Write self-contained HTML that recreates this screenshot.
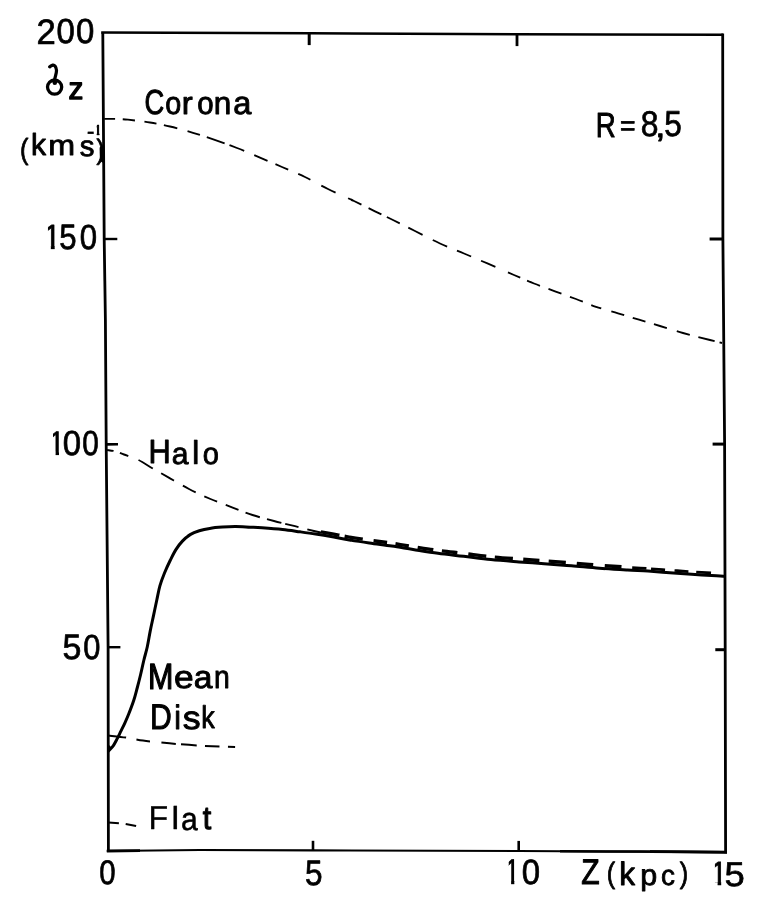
<!DOCTYPE html>
<html><head><meta charset="utf-8"><title>Velocity dispersion vs Z</title>
<style>
html,body{margin:0;padding:0;background:#fff;}
body{width:771px;height:916px;overflow:hidden;}
svg{display:block;}
text{font-family:"Liberation Sans",sans-serif;text-rendering:geometricPrecision;font-size:35px;fill:#000;stroke:#000;stroke-width:1px;stroke-linejoin:round;}
.ax{fill:none;stroke:#000;stroke-linecap:butt;stroke-linejoin:miter;}
.cv{fill:none;stroke:#000;stroke-linecap:butt;stroke-linejoin:round;}
.t{fill:none;stroke:#000;stroke-linecap:round;stroke-linejoin:round;}
</style></head>
<body>
<svg width="771" height="916" viewBox="0 0 771 916">
<defs><clipPath id="c1"><rect x="5.25" y="-26" width="7.2" height="22.8"/><rect x="8.4" y="-3.3" width="4.05" height="3.9"/></clipPath><clipPath id="c2"><rect x="7" y="-27" width="6.7" height="23.6"/><rect x="7" y="-3.5" width="6.7" height="5.2"/></clipPath><filter id="soft" x="0" y="0" width="771" height="916" filterUnits="userSpaceOnUse"><feGaussianBlur stdDeviation="0.45"/></filter></defs>
<rect width="771" height="916" fill="#fff"/>
<g filter="url(#soft)">
<polyline class="ax" style="stroke-width:2.8" points="102.8,32.5 104.2,239 105.4,320 106.2,444 108.1,647 108.4,851"/>
<polyline class="ax" style="stroke-width:2.5" points="101.2,32.6 310,33.2 516,34.2 723,34.8"/>
<polyline class="ax" style="stroke-width:2.8" points="722.7,33.5 722.9,239 724.6,444 725.2,650 725.6,853.2"/>
<polyline class="ax" style="stroke-width:2.2" points="106.8,851 200,850 313,850.4 519,851 727,852.2"/>
<polyline class="ax" style="stroke-width:2.5" points="560,851.2 640,851.6 727,852.2"/>
<polyline class="ax" style="stroke-width:2.8" points="650,851.7 727,852.2"/>
<polyline class="ax" style="stroke-width:2.8" points="106.8,851 140,850.6"/>
<line class="ax" style="stroke-width:2.4" x1="104" y1="239" x2="117.3" y2="239"/>
<line class="ax" style="stroke-width:2.6" x1="106" y1="444.4" x2="118" y2="444.2"/>
<line class="ax" style="stroke-width:2.4" x1="108" y1="647.2" x2="120.4" y2="647.2"/>
<line class="ax" style="stroke-width:3" x1="709.6" y1="239" x2="723" y2="239"/>
<line class="ax" style="stroke-width:3" x1="712.6" y1="444.1" x2="724.6" y2="444.1"/>
<line class="ax" style="stroke-width:3" x1="715.3" y1="649.7" x2="725.2" y2="649.7"/>
<line class="ax" style="stroke-width:3" x1="309.2" y1="33" x2="309.2" y2="45.1"/>
<line class="ax" style="stroke-width:2.8" x1="517" y1="34" x2="517" y2="46.1"/>
<line class="ax" style="stroke-width:2.6" x1="313" y1="840.8" x2="313" y2="850.5"/>
<line class="ax" style="stroke-width:2.6" x1="518.7" y1="840.9" x2="518.7" y2="851"/>
<path class="cv" style="stroke-width:1.85;stroke-dasharray:0 0.3 10.8 7.71 12.26 9.37 12.26 7.75 13.89 10.38 12.95 7.36 18.95 5.11 15.69 10.86 14.45 8.7 13.92 10.87 13.41 12.48 15.93 13.4 14.83 8.03 14.24 6.32 14.38 9.51 16.02 11.22 15.74 10.69 15.49 10.87 15.57 13.31 13.41 7.73 13.89 9.05 13.73 9.05 13.82 9.16 10.56 10.4 13.35 8.99 13.37 8.98 13.38 10.47 13.4 8.78 16.82 4.74 2.88 50;" d="M104 118.9 C105.83 118.9 111 118.77 115 118.9 C119 119.03 122.17 119.1 128 119.7 C133.83 120.3 143 121.37 150 122.5 C157 123.63 162.83 124.78 170 126.5 C177.17 128.22 185.67 130.62 193 132.8 C200.33 134.98 206.67 137.07 214 139.6 C221.33 142.13 229.33 145 237 148 C244.67 151 252.5 154.43 260 157.6 C267.5 160.77 274.5 163.77 282 167 C289.5 170.23 297.33 173.33 305 177 C312.67 180.67 319.83 185 328 189 C336.17 193 346.17 197.28 354 201 C361.83 204.72 368.5 208.13 375 211.3 C381.5 214.47 386.33 216.72 393 220 C399.67 223.28 407.17 227.08 415 231 C422.83 234.92 431.83 239.75 440 243.5 C448.17 247.25 456 250.13 464 253.5 C472 256.87 479.67 260.12 488 263.7 C496.33 267.28 506.33 271.7 514 275 C521.67 278.3 527.17 280.78 534 283.5 C540.83 286.22 548 288.72 555 291.3 C562 293.88 569.17 296.42 576 299 C582.83 301.58 589 304.42 596 306.8 C603 309.18 610.83 311.15 618 313.3 C625.17 315.45 632 317.58 639 319.7 C646 321.82 652.67 323.78 660 326 C667.33 328.22 674.67 330.67 683 333 C691.33 335.33 703.5 338.33 710 340 C716.5 341.67 720 342.5 722 343"/>
<path class="cv" style="stroke-width:1.9;stroke-dasharray:0 0.1 6.46 6.81 9.08 10.75 16.64 9.77 14.86 9.93 14.43 9.47 13.89 9.2 13.7 7.61 15.05 7.36 14.77 3.91 13.9 8.98 14.19 51.02;" d="M107 450 C108.45 450.23 112.87 450.65 115.7 451.4 C118.53 452.15 120.2 453.07 124 454.5 C127.8 455.93 133.7 457.67 138.5 460 C143.3 462.33 147.97 465.7 152.8 468.5 C157.63 471.3 161.47 473.38 167.5 476.8 C173.53 480.22 181.83 485.3 189 489 C196.17 492.7 203.33 495.95 210.5 499 C217.67 502.05 225 504.63 232 507.3 C239 509.97 245.5 512.72 252.5 515 C259.5 517.28 266.92 519.13 274 521 C281.08 522.87 288.33 524.53 295 526.2 C301.67 527.87 309.5 529.9 314 531 C318.5 532.1 320.67 532.5 322 532.8"/>
<path class="cv" style="stroke-width:3.4;stroke-dasharray:0 5.47 18.8 5.4 18.13 10.91 13.62 8.49 13.78 8.91 15.68 8.68 15.7 10.98 18.04 8.54 17.96 10.43 16.44 9.33 17.15 10.94 16.46 11.63 16.43 153.51;" d="M315.6 531.1 C318.17 531.52 325.82 532.68 331 533.6 C336.18 534.52 340.32 535.52 346.7 536.6 C353.08 537.68 361.78 539 369.3 540.1 C376.82 541.2 384.5 542.12 391.8 543.2 C399.1 544.28 405.4 545.4 413.1 546.6 C420.8 547.8 429.57 549.27 438 550.4 C446.43 551.53 454.88 552.35 463.7 553.4 C472.52 554.45 481.68 555.77 490.9 556.7 C500.12 557.63 510.13 558.32 519 559 C527.87 559.68 535.37 560.15 544.1 560.8 C552.83 561.45 562.18 562.15 571.4 562.9 C580.62 563.65 590.07 564.6 599.4 565.3 C608.73 566 619.3 566.62 627.4 567.1 C635.5 567.58 640.93 567.75 648 568.2 C655.07 568.65 662.53 569.27 669.8 569.8 C677.07 570.33 683.82 570.88 691.6 571.4 C699.38 571.92 711.02 572.58 716.5 572.9 C721.98 573.22 723.17 573.23 724.5 573.3"/>
<path class="cv" style="stroke-width:2.7;stroke-dasharray:0 32.56 14.62 4.61 14.04 9.43 14.04 7.82 14.73 63.52;" d="M599.4 565.65 C604.07 565.95 619.3 566.97 627.4 567.45 C635.5 567.93 640.93 568.1 648 568.55 C655.07 569 662.53 569.62 669.8 570.15 C677.07 570.68 683.82 571.23 691.6 571.75 C699.38 572.27 711.02 572.93 716.5 573.25 C721.98 573.57 723.17 573.58 724.5 573.65"/>
<path class="cv" style="stroke-width:3;" d="M108 751.4 C108.77 750.62 111.08 748.78 112.6 746.7 C114.12 744.62 115.72 741.5 117.1 738.9 C118.48 736.3 119.63 733.7 120.9 731.1 C122.17 728.5 123.4 726.15 124.7 723.3 C126 720.45 127.2 717.8 128.7 714 C130.2 710.2 132.28 704.83 133.7 700.5 C135.12 696.17 136.07 692.25 137.2 688 C138.33 683.75 139.38 679.67 140.5 675 C141.62 670.33 142.77 664.72 143.9 660 C145.03 655.28 146.25 651.52 147.3 646.7 C148.35 641.88 149.17 636.28 150.2 631.1 C151.23 625.92 152.4 620.78 153.5 615.6 C154.6 610.42 155.73 604.95 156.8 600 C157.87 595.05 158.62 590.4 159.9 585.9 C161.18 581.4 162.75 577.32 164.5 573 C166.25 568.68 168.5 563.9 170.4 560 C172.3 556.1 173.9 552.75 175.9 549.6 C177.9 546.45 180.02 543.6 182.4 541.1 C184.78 538.6 187.38 536.32 190.2 534.6 C193.02 532.88 196.05 531.83 199.3 530.8 C202.55 529.77 205.82 529.02 209.7 528.4 C213.58 527.78 218.28 527.4 222.6 527.1 C226.92 526.8 231.03 526.58 235.6 526.6 C240.17 526.62 245.6 527 250 527.2 C254.4 527.4 256.57 527.42 262 527.8 C267.43 528.18 276.27 528.83 282.6 529.5 C288.93 530.17 294.5 531.05 300 531.8 C305.5 532.55 310.43 533.22 315.6 534 C320.77 534.78 325.82 535.58 331 536.5 C336.18 537.42 340.32 538.42 346.7 539.5 C353.08 540.58 361.78 541.9 369.3 543 C376.82 544.1 384.5 545.02 391.8 546.1 C399.1 547.18 405.4 548.3 413.1 549.5 C420.8 550.7 429.57 552.17 438 553.3 C446.43 554.43 454.88 555.25 463.7 556.3 C472.52 557.35 481.68 558.67 490.9 559.6 C500.12 560.53 510.13 561.22 519 561.9 C527.87 562.58 535.37 563.05 544.1 563.7 C552.83 564.35 562.18 565.05 571.4 565.8 C580.62 566.55 590.07 567.5 599.4 568.2 C608.73 568.9 619.3 569.52 627.4 570 C635.5 570.48 640.93 570.65 648 571.1 C655.07 571.55 662.53 572.17 669.8 572.7 C677.07 573.23 683.82 573.78 691.6 574.3 C699.38 574.82 711.02 575.48 716.5 575.8 C721.98 576.12 723.17 576.13 724.5 576.2"/>
<path class="cv" style="stroke-width:2;stroke-dasharray:17.73 10.57 13.64 11.45 14.58 5.22 15.64 8.31 14.51 8.3 7.3 50;" d="M108.5 735.5 C111.43 735.85 120.35 736.75 126.1 737.6 C131.85 738.45 137.12 739.8 143 740.6 C148.88 741.4 155.57 741.82 161.4 742.4 C167.23 742.98 172.12 743.58 178 744.1 C183.88 744.62 191.03 745.15 196.7 745.5 C202.37 745.85 205.6 745.97 212 746.2 C218.4 746.43 231.25 746.78 235.1 746.9"/>
<path fill="#000" d="M108 744 L111.5 747.5 L108 752.5 Z"/>
<line class="cv" style="stroke-width:2" x1="108.5" y1="822.5" x2="118.9" y2="823.2"/>
<line class="cv" style="stroke-width:2" x1="125.7" y1="824" x2="136.1" y2="826.1"/>
<g><text transform="matrix(0.99 0 0 1.01 36.61 43.55)" style="stroke-width:0.7">2</text><text transform="matrix(0.94 0 0 0.99 56.55 43.21)" style="stroke-width:0.7">0</text><text transform="matrix(0.94 0 0 0.99 75.94 43.21)" style="stroke-width:0.7">0</text></g>
<g><text clip-path="url(#c1)" style="stroke-width:0.7" transform="matrix(0.94 0 0 1 42.95 248.95)">1</text><text transform="matrix(0.89 0 0 1.01 59.26 249.2)" style="stroke-width:0.7">5</text><text transform="matrix(0.89 0 0 0.99 79.69 249.21)" style="stroke-width:0.7">0</text></g>
<g><text clip-path="url(#c1)" style="stroke-width:0.7" transform="matrix(0.84 0 0 0.97 48.57 454.86)">1</text><text transform="matrix(0.94 0 0 0.99 62.65 455.01)" style="stroke-width:0.7">0</text><text transform="matrix(0.85 0 0 0.99 82.14 455.01)" style="stroke-width:0.7">0</text></g>
<g><text transform="matrix(0.97 0 0 1.01 62.58 659.2)" style="stroke-width:0.7">5</text><text transform="matrix(0.88 0 0 0.99 83.21 659.21)" style="stroke-width:0.7">0</text></g>
<text transform="matrix(0.84 0 0 0.97 99.35 883.53)" style="stroke-width:0.7">0</text>
<text transform="matrix(0.9 0 0 1.01 305.05 884.6)" style="stroke-width:0.7">5</text>
<g><text clip-path="url(#c1)" style="stroke-width:0.7" transform="matrix(0.8 0 0 1.02 504.4 884.14)">1</text><text transform="matrix(0.94 0 0 1 521.75 883.81)" style="stroke-width:0.7">0</text></g>
<g><text clip-path="url(#c1)" style="stroke-width:0.7" transform="matrix(0.89 0 0 0.96 710.15 885.36)">1</text><text transform="matrix(1.04 0 0 0.98 724.61 885.82)" style="stroke-width:0.7">5</text></g>
<g role="img" aria-label="sigma"><title>&#963;</title>
<circle class="t" style="stroke-width:3.3" cx="54.6" cy="87.1" r="7.1"/>
<path class="t" style="stroke-width:3.2" d="M54.6 80 C55 76.5 56.6 73.6 56.5 70.4 C56.3 66.6 54.4 64.7 52.8 65.1 C51.4 65.5 50.4 66.1 49.7 66.9"/>
<ellipse fill="#000" cx="54.8" cy="82.6" rx="2.3" ry="2.5"/>
</g>
<text transform="matrix(0.85 0 0 0.88 68.53 99.04)" style="stroke-width:1.5">z</text>
<g><text transform="matrix(0.72 0 0 0.83 20 158.95)">(</text><text transform="matrix(0.86 0 0 0.87 31.09 155.26)">k</text><text transform="matrix(0.92 0 0 0.81 48.13 155.3)">m</text><text transform="matrix(0.84 0 0 0.83 79.8 156.3)">s</text><text transform="matrix(0.68 0 0 0.77 86.68 140.12)" style="stroke-width:0.4">-</text><text clip-path="url(#c2)" style="stroke-width:2.6" transform="matrix(0.44 0 0 0.4 93.5 134.88)">1</text><text transform="matrix(0.72 0 0 0.8 96.51 159.4)">)</text></g>
<path fill="#000" d="M99.6 147.5 L102.8 145.5 L103.2 163 L99.9 161 Z"/>
<g><text transform="matrix(0.78 0 0 0.99 144.4 113.87)">C</text><text transform="matrix(0.82 0 0 0.91 165.31 114.03)">o</text><text transform="matrix(0.94 0 0 0.91 181.68 114.24)">r</text><text transform="matrix(0.84 0 0 0.91 197.18 114.03)">o</text><text transform="matrix(0.9 0 0 0.91 213.86 113.95)">n</text><text transform="matrix(0.93 0 0 0.92 233.28 114.02)">a</text></g>
<g><text transform="matrix(0.88 0 0 0.96 148.41 463.12)">H</text><text transform="matrix(0.86 0 0 0.87 171.75 463.77)">a</text><text transform="matrix(1.01 0 0 0.95 191.78 464.26)" style="stroke-width:0.5">l</text><text transform="matrix(0.83 0 0 0.87 202.7 463.77)">o</text></g>
<g><text transform="matrix(0.87 0 0 1.04 147.93 688.78)" style="stroke-width:1.2">M</text><text transform="matrix(1.01 0 0 0.91 173.9 687.64)">e</text><text transform="matrix(0.96 0 0 0.91 193.65 687.64)">a</text><text transform="matrix(0.81 0 0 0.92 213.93 687.94)">n</text></g>
<g><text transform="matrix(0.86 0 0 1.02 150.07 729.39)">D</text><text transform="matrix(0.86 0 0 0.97 174.32 729.42)">i</text><text transform="matrix(1.02 0 0 0.93 182.72 729.12)">s</text><text transform="matrix(0.77 0 0 0.9 201.18 728.15)">k</text></g>
<g><text transform="matrix(0.92 0 0 0.95 148.58 829.36)" style="stroke-width:0.3">F</text><text transform="matrix(1.04 0 0 0.91 171.31 829.46)" style="stroke-width:0.3">l</text><text transform="matrix(0.86 0 0 0.91 180.98 830.02)" style="stroke-width:0.6">a</text><text transform="matrix(0.87 0 0 0.93 202.66 829.29)" style="stroke-width:1.2">t</text></g>
<g><text transform="matrix(0.79 0 0 1 595.84 136.7)">R</text><text transform="matrix(0.76 0 0 0.8 619.88 134.81)">=</text><text transform="matrix(0.91 0 0 1.02 640.64 136.1)" style="stroke-width:0.7">8</text><text transform="matrix(1.04 0 0 0.89 655.26 137.37)">,</text><text transform="matrix(0.9 0 0 1.03 664.36 135.58)" style="stroke-width:0.7">5</text></g>
<g><text transform="matrix(0.86 0 0 1.02 581.18 883.99)">Z</text><text transform="matrix(0.72 0 0 0.84 606.85 882.52)">(</text><text transform="matrix(0.9 0 0 0.93 619.24 884.94)">k</text><text transform="matrix(0.87 0 0 0.84 640.28 885.19)">p</text><text transform="matrix(0.8 0 0 0.81 660.91 884.72)">c</text><text transform="matrix(0.72 0 0 0.84 679.86 882.52)">)</text></g>
</g>
</svg>
</body></html>
